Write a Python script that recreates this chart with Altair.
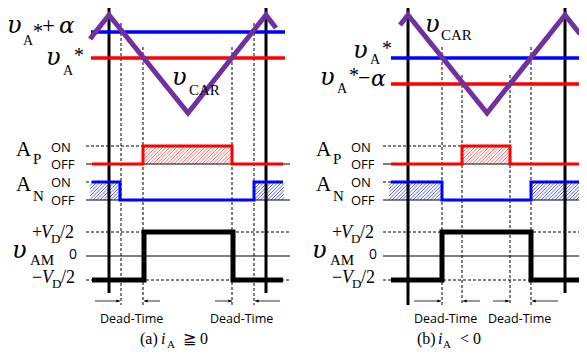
import altair as alt
import pandas as pd

# ---------------- values (image pixel units) ----------------
# two panels: (a) i_A >= 0 and (b) i_A < 0
carrier_x = [[90, 109, 188, 266, 276], [400, 408, 487, 565, 580]]
carrier_y = [[39, 15, 113, 15, 28], [25, 15, 113, 15, 34]]

upper_ref_y = [32, 58]          # blue: vA*+a (a), vA* (b)
lower_ref_y = [58, 84]          # red : vA* (a), vA*-a (b)
ref_x0 = [91, 391]
ref_x1 = [285, 585]

clock_x = [[109, 266], [408, 565]]
clock_top = 5
clock_bottom = [[293, 293], [305, 293]]

dash_x = [[121, 143, 232, 254], [442, 462, 510, 531]]
dash_top = [[23, 47, 47, 23], [47, 75, 75, 47]]
dash_bottom = 305

level_x0 = [86, 383]
level_x1 = [290, 587]
wave_x0 = [92, 391]
wave_x1 = [283, 583]

AP_ON, AP_OFF = 146, 164
AN_ON, AN_OFF = 182, 200
VAM_POS, VAM_ZERO, VAM_NEG = 232, 256, 280

ap_on_span = [(143, 232), (462, 510)]
an_off_span = [(120, 254), (442, 531)]
vam_pos_span = [(144, 233), (442, 531)]

arrow_y = 301
arrows = [[(95, 120), (160, 144), (215, 232), (280, 255)],
          [(414, 441), (480, 463), (493, 509), (558, 532)]]

# labels: text, left x, baseline y, font size, kind
# g = DejaVu Serif italic, i = Liberation Serif italic, r = Liberation Serif, s = sans
labels = [
    ("υ", 7, 33, 24, "g"), ("A", 23, 45, 14, "r"), ("*", 33, 38, 20, "r"),
    ("+", 42, 33, 23, "r"), ("α", 59, 33, 23, "g"),
    ("υ", 46, 65, 24, "g"), ("A", 63, 75, 14, "r"), ("*", 74, 62, 20, "r"),
    ("υ", 172, 85, 24, "g"), ("CAR", 189, 95, 15, "r"),
    ("υ", 425, 32, 24, "g"), ("CAR", 441, 40, 15, "r"),
    ("υ", 353, 58, 24, "g"), ("A", 370, 64, 14, "r"), ("*", 382, 55, 20, "r"),
    ("υ", 320, 85, 24, "g"), ("A", 337, 93, 14, "r"), ("*", 349, 82, 20, "r"),
    ("−", 358, 85, 22, "r"), ("α", 371, 86, 22, "g"),
    ("Dead-Time", 100, 323, 12.5, "s"), ("Dead-Time", 210, 323, 12.5, "s"),
    ("Dead-Time", 414, 323, 12.5, "s"), ("Dead-Time", 488, 323, 12.5, "s"),
    ("(a)", 140, 344, 16, "r"), ("i", 161, 344, 16, "i"), ("A", 167, 348, 11, "r"), ("≧ 0", 183, 344, 16, "r"),
    ("(b)", 417, 344, 16, "r"), ("i", 438, 344, 16, "i"), ("A", 443, 348, 11, "r"), ("< 0", 460, 344, 16, "r"),
]
for off in (0, 300):
    labels += [
        ("A", 16 + off, 156, 21, "r"), ("P", 33 + off, 164, 15, "r"),
        ("ON", 51 + off, 152, 13, "s"), ("OFF", 51 + off, 169, 13, "s"),
        ("A", 16 + off, 191, 21, "r"), ("N", 33 + off, 201, 15, "r"),
        ("ON", 51 + off, 187, 13, "s"), ("OFF", 51 + off, 205, 13, "s"),
        ("+", 32 + off, 238, 18, "r"), ("V", 41 + off, 238, 18, "i"), ("D", 51 + off, 243, 13, "r"), ("/2", 60 + off, 238, 18, "r"),
        ("υ", 12 + off, 258, 24, "g"), ("AM", 30 + off, 265, 15, "r"), ("0", 69 + off, 259, 14, "s"),
        ("−", 32 + off, 283, 18, "r"), ("V", 42 + off, 283, 18, "i"), ("D", 52 + off, 288, 13, "r"), ("/2", 61 + off, 283, 18, "r"),
    ]

# ---------------- build tables ----------------
W, H = 571, 345
X = alt.Scale(domain=[8, 8 + W], nice=False, zero=False)
Y = alt.Scale(domain=[8, 8 + H], nice=False, zero=False, reverse=True)


def seg_enc():
    return dict(x=alt.X("x:Q", scale=X, axis=None), y=alt.Y("y:Q", scale=Y, axis=None),
                x2="x2:Q", y2="y2:Q")


def line_enc():
    return dict(x=alt.X("x:Q", scale=X, axis=None), y=alt.Y("y:Q", scale=Y, axis=None),
                order="i:Q", detail="g:N")


def lines_df(series):
    rows = []
    for g, (xs, ys) in enumerate(series):
        for i, (a, b) in enumerate(zip(xs, ys)):
            rows.append(dict(g=g, i=i, x=a, y=b))
    return pd.DataFrame(rows)


def hatch(x0, x1, y0, y1, step=3.5):
    out = []
    c = x0 + y0 + step
    while c < x1 + y1:
        xa = max(x0, c - y1)
        xb = min(x1, c - y0)
        if xb > xa:
            out.append(dict(x=xa, y=c - xa, x2=xb, y2=c - xb))
        c += step
    return out


carrier = lines_df(list(zip(carrier_x, carrier_y)))
blue_ref = pd.DataFrame([dict(x=ref_x0[p], x2=ref_x1[p], y=upper_ref_y[p], y2=upper_ref_y[p]) for p in range(2)])
red_ref = pd.DataFrame([dict(x=ref_x0[p], x2=ref_x1[p], y=lower_ref_y[p], y2=lower_ref_y[p]) for p in range(2)])

clock = pd.DataFrame([dict(x=clock_x[p][k], x2=clock_x[p][k], y=clock_top, y2=clock_bottom[p][k])
                      for p in range(2) for k in range(2)])
vdash = pd.DataFrame([dict(x=dash_x[p][k], x2=dash_x[p][k], y=dash_top[p][k], y2=dash_bottom)
                      for p in range(2) for k in range(4)])

solid_levels, dashed_levels = [], []
for p in range(2):
    for lv in (AP_OFF, AN_OFF, VAM_ZERO):
        solid_levels.append(dict(x=level_x0[p], x2=level_x1[p], y=lv, y2=lv))
    for lv in (VAM_POS, VAM_NEG):
        dashed_levels.append(dict(x=level_x0[p], x2=level_x1[p], y=lv, y2=lv))
    dashed_levels.append(dict(x=level_x0[p], x2=ap_on_span[p][0], y=AP_ON, y2=AP_ON))
    dashed_levels.append(dict(x=level_x0[p], x2=wave_x0[p], y=AN_ON, y2=AN_ON))
solid_levels = pd.DataFrame(solid_levels)
dashed_levels = pd.DataFrame(dashed_levels)

ap_series, an_series, vam_series = [], [], []
red_h, blue_h = [], []
for p in range(2):
    a0, a1 = ap_on_span[p]
    ap_series.append(([wave_x0[p], a0, a0, a1, a1, wave_x1[p]],
                      [AP_OFF, AP_OFF, AP_ON, AP_ON, AP_OFF, AP_OFF]))
    n0, n1 = an_off_span[p]
    an_series.append(([wave_x0[p], n0, n0, n1, n1, wave_x1[p]],
                      [AN_ON, AN_ON, AN_OFF, AN_OFF, AN_ON, AN_ON]))
    v0, v1 = vam_pos_span[p]
    vam_series.append(([wave_x0[p], v0, v0, v1, v1, wave_x1[p]],
                       [VAM_NEG, VAM_NEG, VAM_POS, VAM_POS, VAM_NEG, VAM_NEG]))
    red_h += hatch(a0, a1, AP_ON, AP_OFF)
    blue_h += hatch(wave_x0[p] - 2, n0, AN_ON, AN_OFF)
    blue_h += hatch(n1, wave_x1[p] + 1, AN_ON, AN_OFF)
ap_df = lines_df(ap_series)
an_df = lines_df(an_series)
vam_df = lines_df(vam_series)
red_h = pd.DataFrame(red_h)
blue_h = pd.DataFrame(blue_h)

shafts, heads = [], []
for p in range(2):
    for (s, e) in arrows[p]:
        shafts.append(dict(x=s, x2=e, y=arrow_y, y2=arrow_y))
        heads.append(dict(x=e, y=arrow_y, ang=0 if e > s else 180))
shafts = pd.DataFrame(shafts)
heads = pd.DataFrame(heads)

lab = pd.DataFrame(labels, columns=["t", "x", "y", "fs", "k"])

# ---------------- layers ----------------
layers = [
    alt.Chart(red_h).mark_rule(color="#ff4a4a", strokeWidth=0.8).encode(**seg_enc()),
    alt.Chart(blue_h).mark_rule(color="#2f3bff", strokeWidth=0.8).encode(**seg_enc()),
    alt.Chart(solid_levels).mark_rule(color="black", strokeWidth=1).encode(**seg_enc()),
    alt.Chart(dashed_levels).mark_rule(color="black", strokeWidth=1, strokeDash=[3, 2]).encode(**seg_enc()),
    alt.Chart(vdash).mark_rule(color="black", strokeWidth=1, strokeDash=[3, 2]).encode(**seg_enc()),
    alt.Chart(clock).mark_rule(color="black", strokeWidth=3).encode(**seg_enc()),
    alt.Chart(blue_ref).mark_rule(color="#0000ff", strokeWidth=3.5).encode(**seg_enc()),
    alt.Chart(red_ref).mark_rule(color="#ff0000", strokeWidth=3.5).encode(**seg_enc()),
    alt.Chart(carrier).mark_line(color="#7030a0", strokeWidth=5, strokeJoin="miter").encode(**line_enc()),
    alt.Chart(ap_df).mark_line(color="#ff0000", strokeWidth=3, strokeJoin="miter").encode(**line_enc()),
    alt.Chart(an_df).mark_line(color="#0000ff", strokeWidth=3, strokeJoin="miter").encode(**line_enc()),
    alt.Chart(vam_df).mark_line(color="black", strokeWidth=5, strokeJoin="miter").encode(**line_enc()),
    alt.Chart(shafts).mark_rule(color="#333333", strokeWidth=1).encode(**seg_enc()),
    alt.Chart(heads).mark_point(shape="M0,0L-1,-0.4L-1,0.4Z", filled=True, color="black",
                                opacity=1, size=55).encode(
        x=alt.X("x:Q", scale=X, axis=None), y=alt.Y("y:Q", scale=Y, axis=None),
        angle=alt.Angle("ang:Q", scale=None)),
]

fonts = {"g": ("DejaVu Serif", "italic"), "i": ("Liberation Serif", "italic"),
         "r": ("Liberation Serif", "normal"), "s": ("Open Sans", "normal")}
for k, (fam, sty) in fonts.items():
    layers.append(
        alt.Chart(lab[lab.k == k]).mark_text(font=fam, fontStyle=sty, align="left",
                                             baseline="alphabetic", color="black").encode(
            x=alt.X("x:Q", scale=X, axis=None), y=alt.Y("y:Q", scale=Y, axis=None),
            text="t:N", size=alt.Size("fs:Q", scale=None))
    )

chart = alt.layer(*layers).properties(
    width=W, height=H, padding=0, autosize=alt.AutoSizeParams(type="none"),
    background="white",
).configure_view(stroke=None)

chart.save("out.html", embed_options={"renderer": "svg", "actions": False})
